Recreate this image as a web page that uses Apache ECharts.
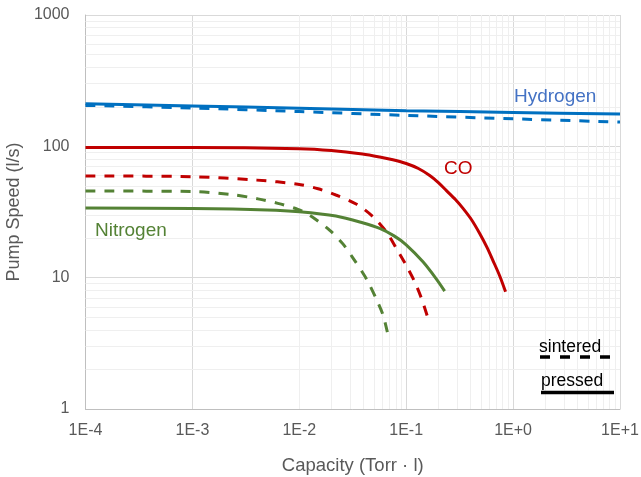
<!DOCTYPE html>
<html><head><meta charset="utf-8">
<script src="https://cdn.jsdelivr.net/npm/echarts@6/dist/echarts.min.js"></script>
<style>html,body{margin:0;padding:0;background:#fff}#c{width:641px;height:477px}</style>
</head><body><div id="c"></div>
<script>
const hydrogenPressed = [[1e-4,211],[1e-3,203],[1e-2,195],[1e-1,187],[1,181],[10,176]];
const hydrogenSintered = [[1e-4,205],[1e-3,196],[1e-2,184],[1e-1,172],[1,162],[10,153]];
const coPressed = [[1e-4,98],[1e-3,98],[1e-2,96],[0.02,93],[0.039,87.5],[0.0565,83],[0.075,79],[0.1,74],[0.13,67.8],[0.166,60],[0.2,53],[0.238,46],[0.29,39.2],[0.34,33.7],[0.41,27.5],[0.487,21.7],[0.57,17],[0.648,13.5],[0.75,10.3],[0.85,7.8]];
const coSintered = [[1e-4,59.5],[1e-3,58.7],[0.004,55.3],[0.0097,51.5],[0.015,47.5],[0.022,42.6],[0.034,36.4],[0.049,29.1],[0.065,22.4],[0.081,16.7],[0.1,12.4],[0.12,9.3],[0.139,6.95],[0.16,4.9]];
const nitrogenPressed = [[1e-4,33.9],[1e-3,33.6],[0.005,32.8],[0.01,31.8],[0.022,29.5],[0.039,26.2],[0.0565,23.7],[0.077,20.8],[0.1,17.8],[0.1435,13.2],[0.191,9.8],[0.229,7.9]];
const nitrogenSintered = [[1e-4,45.7],[1e-3,45.3],[0.0025,42.6],[0.0041,39.8],[0.0063,36.8],[0.0097,33.1],[0.0125,29.9],[0.0193,22.9],[0.0257,18],[0.0318,14.1],[0.0425,9.77],[0.0527,6.84],[0.0607,5.2],[0.0676,3.66]];
const xDecades = [-4,-3,-2,-1,0];
const yDecades = [0,1,2];
const minorMult = [2,3,4,5,6,7,8,9];

const minorX = [];
xDecades.forEach(d => minorMult.forEach(m => minorX.push({xAxis: m * Math.pow(10, d)})));
const minorY = [];
yDecades.forEach(d => minorMult.forEach(m => minorY.push({yAxis: m * Math.pow(10, d)})));

const FONT = 'Liberation Sans, Arial, sans-serif';
const chart = echarts.init(document.getElementById('c'), null, {renderer: 'canvas'});
function lineSeries(name, data, color, dashed) {
  return {
    name, type: 'line', data, smooth: 0.3, showSymbol: false, z: 3,
    lineStyle: {color, width: 3, type: dashed ? [10, 9] : 'solid', cap: 'butt'},
    emphasis: {disabled: true}
  };
}
function fmtX(v) {
  const e = Math.round(Math.log10(v));
  return '1E' + (e >= 0 ? '+' : '-') + Math.abs(e);
}
chart.setOption({
  animation: false,
  grid: {left: 85.5, right: 21, top: 15, bottom: 68, containLabel: false, outerBoundsMode: 'none'},
  xAxis: {
    type: 'log', logBase: 10, min: 1e-4, max: 10,
    name: 'Capacity (Torr · l)', nameLocation: 'middle', nameGap: 47,
    nameTextStyle: {fontFamily: FONT, fontSize: 18.5, color: '#595959'},
    axisLine: {show: true, lineStyle: {color: '#bfbfbf', width: 1}},
    axisTick: {show: false},
    axisLabel: {formatter: fmtX, fontFamily: FONT, fontSize: 16, color: '#595959', margin: 14},
    splitLine: {show: true, lineStyle: {color: '#d9d9d9', width: 1}}
  },
  yAxis: {
    type: 'log', logBase: 10, min: 1, max: 1000,
    name: 'Pump Speed (l/s)', nameLocation: 'middle', nameGap: 54, nameRotate: 90,
    nameTextStyle: {fontFamily: FONT, fontSize: 18, color: '#595959'},
    axisLine: {show: true, lineStyle: {color: '#bfbfbf', width: 1}},
    axisTick: {show: false},
    axisLabel: {formatter: v => String(Math.round(v)), fontFamily: FONT, fontSize: 16, color: '#595959', margin: 16},
    splitLine: {show: true, lineStyle: {color: '#d9d9d9', width: 1}}
  },
  series: [
    {
      type: 'line', data: [], z: 1, silent: true,
      markLine: {
        z: 1, silent: true, symbol: ['none', 'none'], label: {show: false},
        lineStyle: {color: '#efefef', width: 1, type: 'solid'},
        emphasis: {disabled: true},
        data: minorX.concat(minorY)
      }
    },
    lineSeries('Hydrogen pressed', hydrogenPressed, '#0070c0', false),
    lineSeries('Hydrogen sintered', hydrogenSintered, '#0070c0', true),
    lineSeries('CO pressed', coPressed, '#c00000', false),
    lineSeries('CO sintered', coSintered, '#c00000', true),
    lineSeries('Nitrogen pressed', nitrogenPressed, '#548235', false),
    lineSeries('Nitrogen sintered', nitrogenSintered, '#548235', true)
  ],
  graphic: [
    {type: 'text', z: 10, left: 514, top: 87, style: {text: 'Hydrogen', fill: '#4472c4', font: '19px ' + FONT}},
    {type: 'text', z: 10, left: 444, top: 159, style: {text: 'CO', fill: '#c00000', font: '19px ' + FONT}},
    {type: 'text', z: 10, left: 95, top: 221, style: {text: 'Nitrogen', fill: '#548235', font: '19px ' + FONT}},
    {type: 'text', z: 10, left: 539, top: 338, style: {text: 'sintered', fill: '#000', font: '17.5px ' + FONT}},
    {type: 'line', z: 10, shape: {x1: 540, y1: 357, x2: 612, y2: 357}, style: {stroke: '#000', lineWidth: 3.5, lineDash: [10, 10]}},
    {type: 'text', z: 10, left: 541, top: 372, style: {text: 'pressed', fill: '#000', font: '17.5px ' + FONT}},
    {type: 'line', z: 10, shape: {x1: 541, y1: 392.5, x2: 614, y2: 392.5}, style: {stroke: '#000', lineWidth: 3.5}}
  ]
});
</script></body></html>
